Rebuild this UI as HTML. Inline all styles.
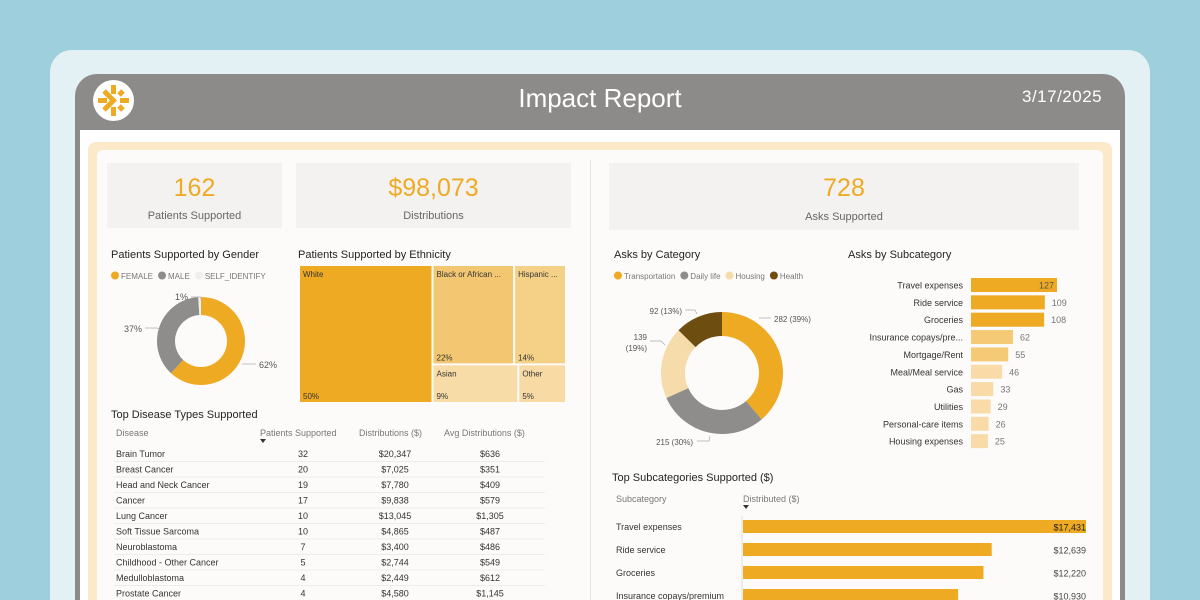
<!DOCTYPE html>
<html><head><meta charset="utf-8">
<style>
*{margin:0;padding:0;box-sizing:border-box}
html,body{width:1200px;height:600px;overflow:hidden}
body{background:#9dcfdc;font-family:"Liberation Sans",sans-serif;position:relative}
.abs{position:absolute}
.t{position:absolute;white-space:nowrap}
</style></head><body>
<div class="abs" style="left:50px;top:50px;width:1100px;height:550px;background:#e3f1f5;border-radius:22px 22px 0 0"></div>
<div class="abs" style="left:75px;top:74px;width:1050px;height:526px;background:#8d8b89;border-radius:22px 22px 0 0"></div>
<div class="abs" style="left:80px;top:130px;width:1040px;height:470px;background:#fff"></div>
<div class="abs" style="left:93px;top:80px;width:41px;height:41px;border-radius:50%;background:#fff">
<svg width="41" height="41" viewBox="0 0 41 41"><g stroke="#eeaa22" stroke-width="5" stroke-linecap="butt" fill="none">
<line x1="20.5" y1="5" x2="20.5" y2="14"/><line x1="20.5" y1="27" x2="20.5" y2="36"/>
<line x1="5" y1="20.5" x2="14" y2="20.5"/><line x1="27" y1="20.5" x2="36" y2="20.5"/>
<polyline points="11,11 20.5,20.5 11,30"/><line x1="30" y1="11" x2="26" y2="15"/><line x1="30" y1="30" x2="26" y2="26"/></g></svg></div>
<div class="t" style="left:0;width:1200px;text-align:center;top:83px;font-size:26px;color:#fff">Impact Report</div>
<div class="t" style="left:1022px;top:87px;font-size:17px;color:#fff;letter-spacing:0.5px">3/17/2025</div>
<div class="abs" style="left:88px;top:142px;width:1024px;height:458px;background:#fbe9c9;border-radius:8px 8px 0 0"></div>
<div class="abs" style="left:97px;top:150px;width:1006px;height:450px;background:#fdfbfa;border-radius:6px 6px 0 0"></div>
<div class="abs" style="left:590px;top:160px;width:1px;height:440px;background:#e6e3e0"></div>

<div class="abs" style="left:107px;top:163px;width:175px;height:65px;background:#f3f2f1"></div>
<div class="t" style="left:107px;width:175px;text-align:center;top:174px;font-size:25px;color:#eeaa22">162</div>
<div class="t" style="left:107px;width:175px;text-align:center;top:210px;font-size:11px;color:#666">Patients Supported</div>
<div class="abs" style="left:296px;top:163px;width:275px;height:65px;background:#f3f2f1"></div>
<div class="t" style="left:296px;width:275px;text-align:center;top:174px;font-size:25px;color:#eeaa22">$98,073</div>
<div class="t" style="left:296px;width:275px;text-align:center;top:210px;font-size:11px;color:#666">Distributions</div>
<div class="abs" style="left:609px;top:163px;width:470px;height:67px;background:#f3f2f1"></div>
<div class="t" style="left:609px;width:470px;text-align:center;top:174px;font-size:25px;color:#eeaa22">728</div>
<div class="t" style="left:609px;width:470px;text-align:center;top:211px;font-size:11px;color:#666">Asks Supported</div>

<div class="t" style="left:111px;top:249px;font-size:11px;color:#252423">Patients Supported by Gender</div>
<div class="t" style="left:298px;top:249px;font-size:11px;color:#252423">Patients Supported by Ethnicity</div>
<div class="t" style="left:614px;top:249px;font-size:11px;color:#252423">Asks by Category</div>
<div class="t" style="left:848px;top:249px;font-size:11px;color:#252423">Asks by Subcategory</div>
<div class="t" style="left:111px;top:409px;font-size:11px;color:#252423">Top Disease Types Supported</div>
<div class="t" style="left:612px;top:472px;font-size:11px;color:#252423">Top Subcategories Supported ($)</div>

<svg id="chart" class="abs" style="left:0;top:0" width="1200" height="600"></svg>

<script>
const genderCats=["FEMALE","MALE","SELF_IDENTIFY"];
const genderVals=[62,37,1];
const genderColors=["#eeaa22","#8f8d8b","#f0efee"];
const ethCats=["White","Black or African ...","Hispanic ...","Asian","Other"];
const ethVals=[50,22,14,9,5];
const catNames=["Transportation","Daily life","Housing","Health"];
const catVals=[282,215,139,92];
const catColors=["#eeaa22","#8f8d8b","#f6dcab","#6e4d10"];
const subNames=["Travel expenses","Ride service","Groceries","Insurance copays/pre...","Mortgage/Rent","Meal/Meal service","Gas","Utilities","Personal-care items","Housing expenses"];
const subVals=[127,109,108,62,55,46,33,29,26,25];
const topNames=["Travel expenses","Ride service","Groceries","Insurance copays/premium"];
const topVals=[17431,12639,12220,10930];
const diseaseNames=["Brain Tumor","Breast Cancer","Head and Neck Cancer","Cancer","Lung Cancer","Soft Tissue Sarcoma","Neuroblastoma","Childhood - Other Cancer","Medulloblastoma","Prostate Cancer"];
const diseasePatients=[32,20,19,17,10,10,7,5,4,4];
const diseaseDist=["$20,347","$7,025","$7,780","$9,838","$13,045","$4,865","$3,400","$2,744","$2,449","$4,580"];
const diseaseAvg=["$636","$351","$409","$579","$1,305","$487","$486","$549","$612","$1,145"];

const svg=document.getElementById('chart');
const NS="http://www.w3.org/2000/svg";
function mk(tag,attrs,parent){const e=document.createElementNS(NS,tag);for(const k in attrs)e.setAttribute(k,attrs[k]);(parent||svg).appendChild(e);return e;}
function txt(x,y,s,size,fill,anchor){const e=mk('text',{x:x,y:y,'font-size':size,fill:fill,'text-anchor':anchor||'start','font-family':'Liberation Sans, sans-serif'});e.textContent=s;return e;}
function arc(cx,cy,r0,r1,a0,a1){const p=(r,a)=>[cx+r*Math.sin(a),cy-r*Math.cos(a)];const large=(a1-a0)>Math.PI?1:0;
 const [x0,y0]=p(r1,a0),[x1,y1]=p(r1,a1),[x2,y2]=p(r0,a1),[x3,y3]=p(r0,a0);
 return `M${x0},${y0}A${r1},${r1} 0 ${large} 1 ${x1},${y1}L${x2},${y2}A${r0},${r0} 0 ${large} 0 ${x3},${y3}Z`;}
function donut(cx,cy,r0,r1,vals,colors,name){const tot=vals.reduce((a,b)=>a+b,0);let a=0;
 vals.forEach((v,i)=>{const a1=a+v/tot*2*Math.PI;const p=mk('path',{d:arc(cx,cy,r0,r1,a,a1),fill:colors[i]});
 
 
 a=a1;});}
function legend(x,y,names,colors,name){let cx=x;names.forEach((n,i)=>{const c=mk('circle',{cx:cx+4,cy:y-3.5,r:4,fill:colors[i]});
 
 
 const t=txt(cx+10,y,n,8,'#777');cx+=10+t.getComputedTextLength()+5;});}

legend(111,279,genderCats,genderColors,'gender');
donut(201,341,26,44,genderVals,genderColors,'gender');
const gl=[[259,368,'start'],[142,332,'end'],[188,300,'end']];
gl.forEach((l,i)=>{txt(l[0],l[1],genderVals[i]+'%',9,'#555',l[2]);});
mk('polyline',{points:'191,297 201,297 201,300',fill:'none',stroke:'#aaa','stroke-width':0.7});
mk('polyline',{points:'145,328 157,328 160,330',fill:'none',stroke:'#aaa','stroke-width':0.7});
mk('polyline',{points:'242,364 256,364',fill:'none',stroke:'#aaa','stroke-width':0.7});

const ethColors=["#eeaa22","#f3c771","#f5d188","#f8dca8","#f8dba4"];
(function(){const X=299,Y=265,W=267,H=138,tot=ethVals.reduce((a,b)=>a+b,0);
 const w0=W*ethVals[0]/tot;const rest=W-w0;
 const topSum=ethVals[1]+ethVals[2],botSum=ethVals[3]+ethVals[4];
 const hTop=H*topSum/(topSum+botSum);
 const rects=[[X,Y,w0,H],
  [X+w0,Y,rest*ethVals[1]/topSum,hTop],[X+w0+rest*ethVals[1]/topSum,Y,rest*ethVals[2]/topSum,hTop],
  [X+w0,Y+hTop,rest*ethVals[3]/botSum,H-hTop],[X+w0+rest*ethVals[3]/botSum,Y+hTop,rest*ethVals[4]/botSum,H-hTop]];
 rects.forEach((r,i)=>{const e=mk('rect',{x:r[0]+1,y:r[1]+1,width:r[2]-2,height:r[3]-2,fill:ethColors[i]});
  
  
  txt(r[0]+4,r[1]+12,ethCats[i],8,'#333');txt(r[0]+4,r[1]+r[3]-4,ethVals[i]+'%',8,'#333');});
})();

legend(614,279,catNames,catColors,'category');
donut(722,373,37,61,catVals,catColors,'category');
(function(){const tot=catVals.reduce((a,b)=>a+b,0);const pct=catVals.map(v=>Math.round(v/tot*100));
 txt(774,322,catVals[0]+' ('+pct[0]+'%)',8,'#555');
 txt(693,445,catVals[1]+' ('+pct[1]+'%)',8,'#555','end');
 txt(647,340,String(catVals[2]),8,'#555','end');txt(647,351,'('+pct[2]+'%)',8,'#555','end');
 txt(682,314,catVals[3]+' ('+pct[3]+'%)',8,'#555','end');})();
mk('polyline',{points:'759,318 771,318',fill:'none',stroke:'#aaa','stroke-width':0.7});
mk('polyline',{points:'697,441 709,441 710,436',fill:'none',stroke:'#aaa','stroke-width':0.7});
mk('polyline',{points:'650,341 661,341 665,345',fill:'none',stroke:'#aaa','stroke-width':0.7});
mk('polyline',{points:'685,310 695,310 697,314',fill:'none',stroke:'#aaa','stroke-width':0.7});

(function(){const x0=971,maxW=86/127,y0=278,step=17.35,bh=14;
 const cols=v=>v>=100?'#eeaa22':(v>=50?'#f5ca76':'#f8dba7');
 subNames.forEach((n,i)=>{const y=y0+i*step;const w=subVals[i]*maxW;
  const b=mk('rect',{x:x0,y:y,width:w,height:bh,fill:cols(subVals[i])});
  
  
  txt(963,y+10.5,n,9,'#333','end');
  if(i===0)txt(x0+w-3,y+10.5,String(subVals[i]),9,'#555','end');else txt(x0+w+7,y+10.5,String(subVals[i]),9,'#777');});
})();

txt(616,502,'Subcategory',9,'#777');txt(743,502,'Distributed ($)',9,'#777');
mk('path',{d:'M743,505 L749,505 L746,509Z',fill:'#333'});
mk('line',{x1:742,y1:516,x2:742,y2:600,stroke:'#ddd','stroke-width':1});
(function(){const x0=743,sc=343/17431,y0=520,step=23;
 topNames.forEach((n,i)=>{const y=y0+i*step;const w=topVals[i]*sc;
  const b=mk('rect',{x:x0,y:y,width:w,height:13,fill:'#eeaa22'});
  
  
  txt(616,y+10,n,9,'#333');
  txt(1086,y+10.5,'$'+topVals[i].toLocaleString('en-US'),9,i===0?'#222':'#444','end');});
})();

txt(116,436,'Disease',9,'#777');txt(260,436,'Patients Supported',9,'#777');txt(359,436,'Distributions ($)',9,'#777');txt(444,436,'Avg Distributions ($)',9,'#777');
mk('path',{d:'M260,439 L266,439 L263,443Z',fill:'#333'});
diseaseNames.forEach((n,i)=>{const y=457+i*15.5;
 const r=mk('line',{x1:114,y1:y+4.5,x2:545,y2:y+4.5,stroke:'#eeeceb','stroke-width':1});
 
 
 txt(116,y,n,9,'#333');txt(303,y,String(diseasePatients[i]),9,'#333','middle');
 txt(395,y,diseaseDist[i],9,'#333','middle');txt(490,y,diseaseAvg[i],9,'#333','middle');});
</script>
</body></html>
